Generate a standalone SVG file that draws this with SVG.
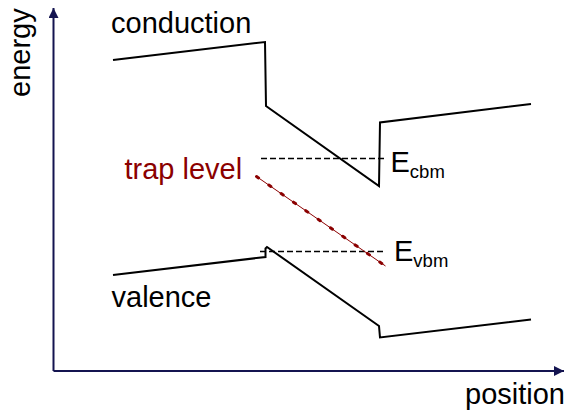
<svg xmlns="http://www.w3.org/2000/svg" width="568" height="413" viewBox="0 0 568 413">
<style>
text{font-family:"Liberation Sans",Arial,sans-serif;fill:#000}
.lbl{font-size:29px}
.sub{font-size:18.5px}
.band{fill:none;stroke:#000;stroke-width:2;stroke-linejoin:miter}
.dash{fill:none;stroke:#000;stroke-width:1.5;stroke-dasharray:6 3}
.axis{fill:none;stroke:#141450;stroke-width:2}
</style>
<defs>
<marker id="ah" viewBox="0 0 10 10" refX="10" refY="5" markerWidth="10" markerHeight="10" markerUnits="userSpaceOnUse" orient="auto">
<path d="M0,0 L10,5 L0,10 z" fill="#141450"/>
</marker>
</defs>
<g id="axes">
<path class="axis" d="M53.5,371 V8" marker-end="url(#ah)"/>
<path class="axis" d="M53.5,371 H564" marker-end="url(#ah)"/>
<text class="lbl" transform="translate(29.5,97) rotate(-90)">energy</text>
<text class="lbl" x="465" y="404">position</text>
</g>
<g id="conduction">
<path class="band" d="M113,60 L265,42 L266,106 L379,186 L380,122.5 L531,104"/>
<text class="lbl" x="111" y="32.5">conduction</text>
</g>
<g id="valence">
<path class="band" d="M113,275 L265.5,257 L265.5,248.5 L267,247 L379,326 L380,337.5 L531,319.5"/>
<text class="lbl" x="111.5" y="306.5">valence</text>
</g>
<g id="connectors">
<path class="dash" d="M261,158.5 H387"/>
<path class="dash" d="M260,251.5 H386"/>
<path d="M256.5,176.5 L385.5,266" fill="none" stroke="#8b0000" stroke-width="1"/>
<path d="M256.5,176.5 L385.5,266" fill="none" stroke="#8b0000" stroke-width="3" stroke-linecap="round" stroke-dasharray="2.5 12.5"/>
</g>
<g id="trap">
<text class="lbl" x="124.5" y="178.5" style="fill:#8b0000">trap level</text>
</g>
<g id="ecbm">
<text x="390.5" y="172"><tspan class="lbl">E</tspan><tspan class="sub" dy="5.5">cbm</tspan></text>
</g>
<g id="evbm">
<text x="394" y="261"><tspan class="lbl">E</tspan><tspan class="sub" dy="5.5">vbm</tspan></text>
</g>
</svg>
